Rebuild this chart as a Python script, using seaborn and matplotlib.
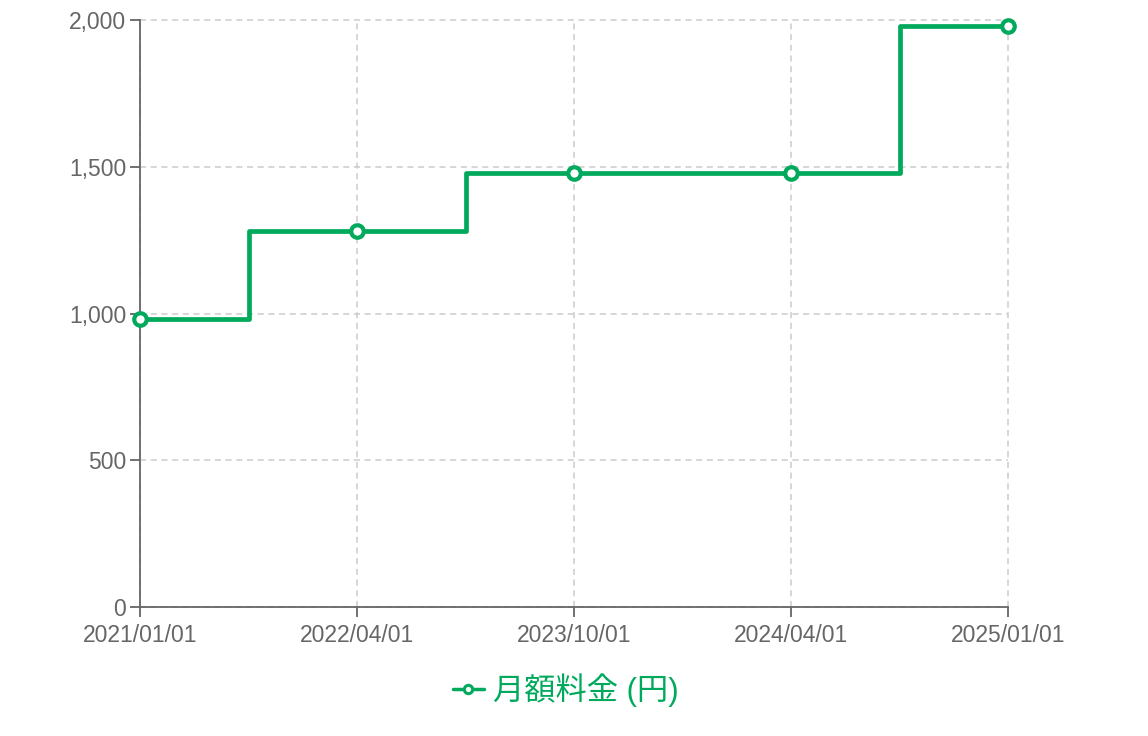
import pandas as pd
import matplotlib
matplotlib.use("Agg")
import matplotlib.pyplot as plt
import seaborn as sns

# ============ Data ============
dates = ['2021/01/01', '2022/04/01', '2023/10/01', '2024/04/01', '2025/01/01']
fees = [980, 1280, 1480, 1480, 1980]
label = '月額料金 (円)'

df = pd.DataFrame({'idx': range(len(dates)), 'fee': fees})

# ============ Style ============
sns.set_style('white')
plt.rcParams['font.family'] = ['Liberation Sans', 'Noto Sans CJK JP', 'DejaVu Sans']

green = '#00a95c'
gray = '#666666'

fig = plt.figure(figsize=(11.48, 7.36), dpi=100)
ax = fig.add_axes([140 / 1148, 1 - 607 / 736, 868 / 1148, 587 / 736])

sns.lineplot(data=df, x='idx', y='fee', ax=ax, color=green, linewidth=3.4,
             drawstyle='steps-mid', marker='o', markersize=9,
             markerfacecolor='white', markeredgecolor=green, markeredgewidth=3,
             label=label, clip_on=False, zorder=5)

ax.set_xlim(0, len(dates) - 1)
ax.set_ylim(0, 2000)
ax.set_xticks(range(len(dates)))
ax.set_xticklabels(dates)
ax.set_yticks([0, 500, 1000, 1500, 2000])
ax.set_yticklabels(['0', '500', '1,000', '1,500', '2,000'])
ax.set_xlabel('')
ax.set_ylabel('')

ax.grid(True, color='#cccccc', linestyle=(0, (4, 3)), linewidth=1.1)
for gl in ax.get_xgridlines() + ax.get_ygridlines():
    gl.set_clip_on(False)
for s in ['top', 'right']:
    ax.spines[s].set_visible(False)
for s in ['left', 'bottom']:
    ax.spines[s].set_color(gray)
    ax.spines[s].set_linewidth(1.3)
ax.tick_params(axis='both', colors=gray, labelcolor=gray, labelsize=16.5,
               length=7, width=1.3, direction='out', left=True, bottom=True)
ax.tick_params(axis='x', pad=5)
ax.tick_params(axis='y', pad=3)

ax.get_legend().remove()
h, l = ax.get_legend_handles_labels()
leg = fig.legend(h, l, loc='center', bbox_to_anchor=(0.5 - 8 / 1148, 1 - 690 / 736),
                 frameon=False, fontsize=22.5, handlelength=1.0, handletextpad=0.3)
for t in leg.get_texts():
    t.set_color(green)
for lh in leg.legend_handles:
    lh.set_linewidth(2.5)
    lh.set_markersize(6)
    lh.set_markeredgewidth(2.2)

fig.savefig('out.png', dpi=100)
